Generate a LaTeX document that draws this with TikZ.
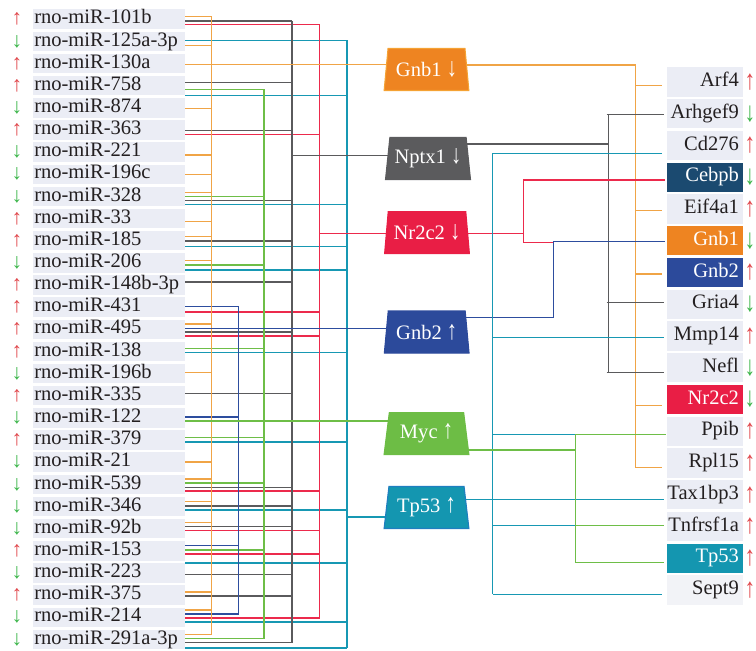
\documentclass[tikz,border=0pt]{standalone}
\usepackage{fontspec}
\usepackage{graphicx}
\setmainfont{Liberation Serif}
\usetikzlibrary{shapes.geometric}
\pgfdeclarelayer{bg}
\pgfsetlayers{bg,main}
\definecolor{cO}{HTML}{F0A446}
\definecolor{cK}{HTML}{5A5A5C}
\definecolor{cR}{HTML}{EC2A4C}
\definecolor{cB}{HTML}{2D4D9E}
\definecolor{cG}{HTML}{6EBE47}
\definecolor{cT}{HTML}{1798B3}
\definecolor{fO}{HTML}{EE8421}
\definecolor{fOb}{HTML}{F5A233}
\definecolor{fK}{HTML}{5B5B5D}
\definecolor{fR}{HTML}{E91E45}
\definecolor{fB}{HTML}{2C4A9B}
\definecolor{fG}{HTML}{6DBD45}
\definecolor{fT}{HTML}{1496B0}
\definecolor{fTb}{HTML}{1F7EC0}
\definecolor{navy}{HTML}{1B4A70}
\definecolor{rowbg}{HTML}{EBEDF5}
\definecolor{rowbgb}{HTML}{F2F3F7}
\definecolor{upc}{HTML}{E0474C}
\definecolor{dnc}{HTML}{3CB54A}
\definecolor{txt}{HTML}{231F20}
\newcommand\bigarr[1]{\scalebox{1}[1.3]{#1}}
\begin{document}
\begin{tikzpicture}[x=0.75pt,y=-0.75pt,
  font=\fontsize{15.4}{18}\selectfont,
  lbox/.style={fill=rowbg, minimum width=114pt, minimum height=14.6pt, inner sep=0pt},
  rbox/.style={minimum width=57pt, minimum height=22.1pt, inner sep=0pt},
  ltext/.style={anchor=west, inner sep=0pt, text height=10.6pt, text depth=3.6pt, text=txt},
  rtext/.style={anchor=east, inner sep=0pt, text height=10.6pt, text depth=3.6pt},
  arr/.style={inner sep=0pt, font=\fontsize{16}{16}\selectfont},
  trap/.style={trapezium, trapezium left angle=78, trapezium right angle=78,
    minimum height=31.5pt, minimum width=63.75pt, trapezium stretches=true,
    inner xsep=2pt, inner ysep=0pt, text=white, line width=0.8pt},
  ln/.style={line width=1.15pt}]
\useasboundingbox (0,0) rectangle (756,650);

% left rows
\foreach \i/\t/\a/\ac in {1/rno-miR-101b/↑/upc, 2/rno-miR-125a-3p/↓/dnc, 3/rno-miR-130a/↑/upc,
  4/rno-miR-758/↑/upc, 5/rno-miR-874/↓/dnc, 6/rno-miR-363/↑/upc, 7/rno-miR-221/↓/dnc,
  8/rno-miR-196c/↓/dnc, 9/rno-miR-328/↓/dnc, 10/rno-miR-33/↑/upc, 11/rno-miR-185/↑/upc,
  12/rno-miR-206/↓/dnc, 13/rno-miR-148b-3p/↑/upc, 14/rno-miR-431/↑/upc, 15/rno-miR-495/↑/upc,
  16/rno-miR-138/↑/upc, 17/rno-miR-196b/↓/dnc, 18/rno-miR-335/↑/upc, 19/rno-miR-122/↓/dnc,
  20/rno-miR-379/↑/upc, 21/rno-miR-21/↓/dnc, 22/rno-miR-539/↓/dnc, 23/rno-miR-346/↓/dnc,
  24/rno-miR-92b/↓/dnc, 25/rno-miR-153/↑/upc, 26/rno-miR-223/↓/dnc, 27/rno-miR-375/↑/upc,
  28/rno-miR-214/↓/dnc, 29/rno-miR-291a-3p/↓/dnc}{
  \pgfmathsetmacro\yy{19.2+(\i-1)*22.15}
  \node[lbox] (m\i) at (109,\yy) {};
  \node[ltext] (mt\i) at (34,\yy) {\t};
  \node[arr, text=\ac] (ma\i) at (17,\yy) {\a};
}

% right rows
\foreach \i/\t/\f/\tc/\a/\ac in {1/Arf4/rowbg/txt/↑/upc, 2/Arhgef9/rowbg/txt/↓/dnc,
  3/Cd276/rowbg/txt/↑/upc, 4/Cebpb/navy/white/↓/dnc, 5/Eif4a1/rowbg/txt/↑/upc,
  6/Gnb1/fO/white/↓/dnc, 7/Gnb2/fB/white/↑/upc, 8/Gria4/rowbg/txt/↓/dnc,
  9/Mmp14/rowbg/txt/↑/upc, 10/Nefl/rowbg/txt/↓/dnc, 11/Nr2c2/fR/white/↓/dnc,
  12/Ppib/rowbg/txt/↑/upc, 13/Rpl15/rowbg/txt/↑/upc, 14/Tax1bp3/rowbg/txt/↑/upc,
  15/Tnfrsf1a/rowbg/txt/↑/upc, 16/Tp53/fT/white/↑/upc, 17/Sept9/rowbgb/txt/↑/upc}{
  \pgfmathsetmacro\yy{82+(\i-1)*31.75}
  \node[rbox, fill=\f] (r\i) at (704.7,\yy) {};
  \node[rtext, text=\tc] (rt\i) at (739.2,\yy) {\t};
  \node[arr, text=\ac] (ra\i) at (750,\yy) {\bigarr{\a}};
}

% trapezoids
\node[trap, fill=fO, draw=fOb] (tGnb1) at (426.5,69.5) {Gnb1 \bigarr{↓}};
\node[trap, fill=fK, draw=fK] (tNptx1) at (428,158.5) {Nptx1 \bigarr{↓}};
\node[trap, fill=fR, draw=fR] (tNr2c2) at (427,232.7) {Nr2c2 \bigarr{↓}};
\node[trap, fill=fB, draw=fB] (tGnb2) at (426.7,332) {Gnb2 \bigarr{↑}};
\node[trap, fill=fG, draw=fG] (tMyc) at (426.5,433.7) {Myc \bigarr{↑}};
\node[trap, fill=fT, draw=fTb] (tTp53) at (426.5,507.5) {Tp53 \bigarr{↑}};

\begin{pgfonlayer}{bg}
% left stubs
\foreach \c/\r/\y/\b in {
  cO/1/16.3/211.7, cK/1/21/292, cR/1/24.3/319.7,
  cT/2/40.3/347, cO/2/45.5/211.7,
  cK/4/82.3/292, cG/4/89.3/264, cT/4/95.3/347,
  cO/5/108.7/211.7,
  cK/6/130.3/292, cR/6/134.7/319.7,
  cO/7/155/211.7,
  cO/8/174.7/211.7,
  cO/9/192.3/211.7, cG/9/196.7/264, cK/9/200.7/292, cT/9/204.5/347,
  cO/10/221.7/211.7,
  cO/11/236.5/211.7, cK/11/241/292, cT/11/246.3/347,
  cO/12/260.7/211.7, cG/12/265/264, cT/12/270.2/347,
  cK/13/282.2/292,
  cB/14/306.7/238.7, cR/14/312/319.7,
  cO/15/323.8/211.7, cK/15/332.2/292, cR/15/336/319.7,
  cG/16/348.3/264, cT/16/352.7/347,
  cO/17/372.7/211.7,
  cK/18/393.5/292,
  cB/19/417/238.7,
  cG/20/437.5/264, cT/20/442/347,
  cO/21/461.8/211.7,
  cO/22/479/211.7, cG/22/483/264, cK/22/487.3/292, cR/22/491.2/319.7,
  cO/23/501.7/211.7, cK/23/506/292, cT/23/510.2/347,
  cO/24/522.5/211.7, cK/24/526.7/292, cR/24/530.7/319.7,
  cB/25/545.7/238.7, cG/25/549.8/264, cR/25/554/319.7,
  cT/26/562.8/347, cK/26/574.7/292,
  cO/27/591.8/211.7, cK/27/596/292,
  cO/28/610.2/211.7, cB/28/614.2/238.7, cR/28/617.8/319.7, cT/28/622.2/347,
  cO/29/634.4/211.7, cG/29/638.5/264, cK/29/642.5/292, cT/29/648.2/347}{
  \draw[ln, draw=\c] (m\r.east |- 0,\y) -- (\b,\y);
}
% left buses
\draw[ln, cO] (211.7,16.3) -- (211.7,634.4);
\draw[ln, cB] (238.7,306.7) -- (238.7,614.2);
\draw[ln, cG] (264,89.3) -- (264,638.5);
\draw[ln, cK] (292,21) -- (292,642.5);
\draw[ln, cR] (319.7,24.3) -- (319.7,617.8);
\draw[ln, cT] (347,40.3) -- (347,648.2);
% into trapezoids
\draw[ln, cO] (m3.east |- 0,64.7) -- (tGnb1.center |- 0,64.7);
\draw[ln, cK] (292,155.3) -- (tNptx1.center |- 0,155.3);
\draw[ln, cR] (319.7,233.3) -- (tNr2c2.center |- 0,233.3);
\draw[ln, cB] (m15.east |- 0,328.4) -- (tGnb2.center |- 0,328.4);
\draw[ln, cG] (m19.east |- 0,421) -- (tMyc.center |- 0,421);
\draw[ln, cT] (347,517) -- (tTp53.center |- 0,517);

% right side: Gnb1 (orange)
\draw[ln, cO] (tGnb1.center |- 0,65) -- (635.5,65) -- (635.5,467.5) -- ([xshift=-3.5pt]r13.west |- 0,467.5);
\foreach \r/\y in {1/85.7, 5/210.7, 7/274, 11/405.3}{
  \draw[ln, cO] (635.5,\y) -- ([xshift=-3.5pt]r\r.west |- 0,\y);
}
% Nptx1 (gray)
\draw[ln, cK] (tNptx1.center |- 0,144) -- (608.5,144);
\draw[ln, cK] (608.5,114.3) -- (608.5,372.5);
\foreach \r/\y in {2/114.3, 8/302.7, 10/372.5}{
  \draw[ln, cK] (606.5,\y) -- ([xshift=-2pt]r\r.west |- 0,\y);
}
% Nr2c2 (red)
\draw[ln, cR] (tNr2c2.center |- 0,233.3) -- (523.3,233.3);
\draw[ln, cR] ([xshift=-1pt]r4.west |- 0,180) -- (523.3,180) -- (523.3,242.7) -- (553.7,242.7);
% Gnb2 (blue)
\draw[ln, cB] (tGnb2.center |- 0,317.7) -- (553.7,317.7) -- (553.7,241.7) -- ([xshift=-1pt]r6.west |- 0,241.7);
% Tp53 (teal)
\draw[ln, cT] (tTp53.center |- 0,499.3) -- ([xshift=-1.5pt]r14.west |- 0,499.3);
\draw[ln, cT] (492.5,153.3) -- (492.5,594.3);
\draw[ln, cT] (492.5,153.3) -- ([xshift=-3.5pt]r3.west |- 0,153.3);
\draw[ln, cT] (492.5,337.7) -- ([xshift=-1.5pt]r9.west |- 0,337.7);
\draw[ln, cT] (492.5,434.3) -- (575.7,434.3);
\draw[ln, cT] (492.5,525.3) -- (575.7,525.3);
\draw[ln, cT] (492.5,594.3) -- ([xshift=-3.5pt]r17.west |- 0,594.3);
% Myc (green)
\draw[ln, cG] (tMyc.center |- 0,450) -- (575.7,450);
\draw[ln, cG] (575.7,434.3) -- (575.7,562.7);
\draw[ln, cG] (575.7,434.3) -- ([xshift=-0.5pt]r12.west |- 0,434.3);
\draw[ln, cG] (575.7,525.3) -- ([xshift=-1.5pt]r15.west |- 0,525.3);
\draw[ln, cG] (575.7,562.7) -- ([xshift=-2pt]r16.west |- 0,562.7);
\end{pgfonlayer}
\end{tikzpicture}
\end{document}
